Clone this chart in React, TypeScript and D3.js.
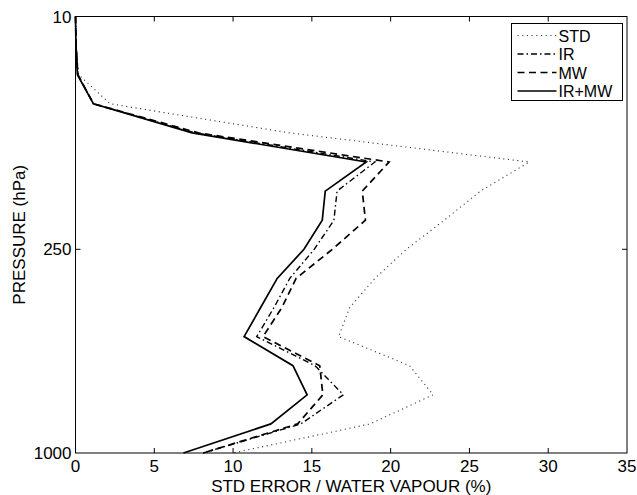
import React from "react";
import * as d3 from "d3";

// Vertical coordinate: pressure-level index (0 = 10 hPa at top, 15 = 1000 hPa at bottom)
const LEVELS = [0, 1, 2, 3, 4, 5, 6, 7, 8, 9, 10, 11, 12, 13, 14, 15];

// Standard error of water vapour (%) at each level
const STD = [0, 0.05, 0.2, 2.2, 13.6, 28.8, 25.7, 23.4, 21.0, 19.0, 17.4, 16.7, 21.2, 22.7, 18.7, 10.0];
const IR = [0, 0.04, 0.15, 1.14, 7.6, 19.0, 16.6, 16.4, 15.15, 13.6, 12.6, 11.5, 15.2, 17.0, 14.3, 8.1];
const MW = [0, 0.04, 0.15, 1.14, 7.8, 19.9, 18.2, 18.4, 16.3, 14.0, 13.1, 11.9, 15.5, 15.7, 14.1, 8.1];
const IRMW = [0, 0.03, 0.12, 1.14, 7.4, 18.45, 15.85, 15.66, 14.5, 12.8, 11.75, 10.7, 13.8, 14.7, 12.4, 6.85];

const SERIES_NAMES = ["STD", "IR", "MW", "IR+MW"];
const SERIES_VALUES = [STD, IR, MW, IRMW];

const X_TICKS = [0, 5, 10, 15, 20, 25, 30, 35];
const Y_TICK_LEVELS = [0, 8, 15];
const Y_TICK_LABELS = ["10", "250", "1000"];

const STYLES = [
  { stroke: "#333", width: 1.1, dash: "1.1,3.6" },
  { stroke: "#000", width: 1.4, dash: "6,3,1.5,3" },
  { stroke: "#000", width: 1.7, dash: "7,4.5" },
  { stroke: "#000", width: 1.7, dash: "" },
];

const FONT = "'Liberation Sans', Arial, Helvetica, sans-serif";

export default function App() {
  const W = 637;
  const H = 495;
  const left = 75.5;
  const right = 627;
  const top = 16.5;
  const bottom = 453;

  const x = d3.scaleLinear().domain([0, 35]).range([left, right]);
  const y = d3.scaleLinear().domain([0, 15]).range([top, bottom]);

  const line = d3
    .line<number>()
    .x((v) => x(v))
    .y((_, i) => y(LEVELS[i]));

  const legX = 511.5;
  const legY = 23.5;
  const legW = 111;
  const legH = 77;
  const rowY = (i: number) => legY + 12 + i * 18.5;

  return (
    <svg
      width={W}
      height={H}
      style={{ position: "fixed", left: 0, top: 0, background: "#fff" }}
      fontFamily={FONT}
    >
      <rect x={0} y={0} width={W} height={H} fill="#fff" />
      {SERIES_VALUES.map((vals, k) => (
        <path
          key={SERIES_NAMES[k]}
          d={line(vals) || ""}
          fill="none"
          stroke={STYLES[k].stroke}
          strokeWidth={STYLES[k].width}
          strokeDasharray={STYLES[k].dash || undefined}
          strokeLinejoin="miter"
        />
      ))}
      <rect x={left} y={top} width={right - left} height={bottom - top} fill="none" stroke="#000" strokeWidth={1} />
      {X_TICKS.map((t) => (
        <g key={"xt" + t}>
          {t > 0 && t < 35 && (
            <>
              <line x1={x(t)} x2={x(t)} y1={bottom} y2={bottom - 5} stroke="#000" strokeWidth={1} />
              <line x1={x(t)} x2={x(t)} y1={top} y2={top + 5} stroke="#000" strokeWidth={1} />
            </>
          )}
          <text x={x(t)} y={bottom + 19} textAnchor="middle" fontSize={17} fill="#000">
            {t}
          </text>
        </g>
      ))}
      {Y_TICK_LEVELS.map((lv, i) => (
        <g key={"yt" + lv}>
          {i > 0 && i < Y_TICK_LEVELS.length - 1 && (
            <>
              <line x1={left} x2={left + 5} y1={y(lv)} y2={y(lv)} stroke="#000" strokeWidth={1} />
              <line x1={right} x2={right - 5} y1={y(lv)} y2={y(lv)} stroke="#000" strokeWidth={1} />
            </>
          )}
          <text x={left - 4} y={y(lv) + 6} textAnchor="end" fontSize={17} fill="#000">
            {Y_TICK_LABELS[i]}
          </text>
        </g>
      ))}
      <text x={(left + right) / 2} y={492} textAnchor="middle" fontSize={17} fill="#000">
        STD ERROR / WATER VAPOUR (%)
      </text>
      <text
        transform={`translate(25, ${(top + bottom) / 2}) rotate(-90)`}
        textAnchor="middle"
        fontSize={17}
        fill="#000"
      >
        PRESSURE (hPa)
      </text>
      <rect x={legX} y={legY} width={legW} height={legH} fill="#fff" stroke="#000" strokeWidth={1} />
      {SERIES_NAMES.map((name, i) => (
        <g key={"leg" + name}>
          <line
            x1={legX + 6}
            x2={legX + 45}
            y1={rowY(i)}
            y2={rowY(i)}
            stroke={STYLES[i].stroke}
            strokeWidth={STYLES[i].width}
            strokeDasharray={STYLES[i].dash || undefined}
          />
          <text x={legX + 47} y={rowY(i) + 6} fontSize={16} fill="#000">
            {name}
          </text>
        </g>
      ))}
    </svg>
  );
}
